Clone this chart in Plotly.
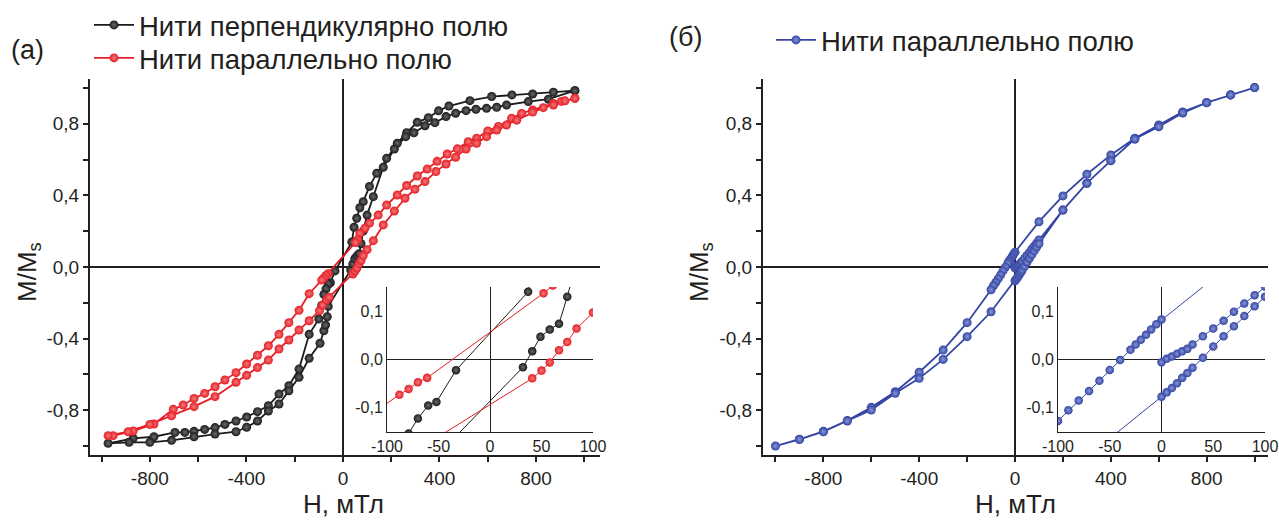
import plotly.graph_objects as go

# ---------------- data ----------------
# Panel (a): fibres perpendicular to field (black), full loop +Hmax -> -Hmax -> +Hmax
perp_H = [961, 872, 786, 700, 616, 526, 439, 396, 354, 308, 264, 225, 181, 140, 110, 84, 70, 57, 46, 37,
          -33, -52, -60, -70, -79, -88, -100, -140, -182, -224, -265, -309, -354, -399, -443, -489, -530,
          -573, -617, -655, -696, -783, -869, -973,
          -886, -800, -710, -617, -530, -443, -399, -354, -309, -265, -224, -182, -140, -95, -79, -72, -65, -61,
          32, 41, 49, 58, 67, 75, 84, 100, 126, 167, 213, 260, 294, 340, 381, 427, 467, 510, 551, 595, 637,
          678, 768, 851, 961]
perp_M = [0.985, 0.976, 0.966, 0.961, 0.952, 0.929, 0.899, 0.872, 0.834, 0.808, 0.750, 0.691, 0.607, 0.523,
          0.450, 0.365, 0.331, 0.272, 0.222, 0.140,
          -0.022, -0.088, -0.095, -0.122, -0.153, -0.215, -0.290, -0.376, -0.570, -0.663, -0.710, -0.775,
          -0.808, -0.838, -0.860, -0.879, -0.897, -0.907, -0.918, -0.924, -0.924, -0.948, -0.957, -0.985,
          -0.979, -0.979, -0.968, -0.948, -0.933, -0.920, -0.895, -0.860, -0.804, -0.765, -0.691, -0.616,
          -0.510, -0.426, -0.356, -0.324, -0.278, -0.220,
          -0.016, 0.017, 0.047, 0.062, 0.074, 0.130, 0.200, 0.290, 0.393, 0.557, 0.659, 0.728, 0.750, 0.789,
          0.806, 0.840, 0.859, 0.873, 0.881, 0.886, 0.892, 0.905, 0.924, 0.937, 0.985]

# Panel (a): fibres parallel to field (red)
par_H = [961, 905, 872, 786, 740, 699, 644, 600, 554, 519, 474, 432, 390, 349, 308, 264, 225, 181, 146, 110,
         91, 70, 61, 52,
         -61, -70, -79, -88, -140, -182, -224, -265, -309, -354, -399, -443, -489, -530, -573, -617, -662,
         -703, -783, -869, -952, -973,
         -890, -800, -710, -617, -530, -443, -399, -354, -309, -265, -224, -182, -140, -97, -84, -68, -57,
         41, 50, 58, 67, 75, 84, 100, 126, 167, 213, 257, 298, 340, 385, 427, 467, 510, 554, 595, 637, 678,
         720, 786, 830, 872, 920, 961]
par_M = [0.942, 0.925, 0.913, 0.877, 0.858, 0.831, 0.785, 0.760, 0.719, 0.700, 0.660, 0.631, 0.590, 0.547,
         0.508, 0.455, 0.402, 0.346, 0.290, 0.245, 0.216, 0.188, 0.153, 0.137,
         -0.038, -0.047, -0.061, -0.073, -0.149, -0.242, -0.311, -0.376, -0.440, -0.493, -0.542, -0.590,
         -0.631, -0.669, -0.706, -0.734, -0.771, -0.795, -0.877, -0.916, -0.942, -0.942,
         -0.920, -0.879, -0.831, -0.780, -0.724, -0.644, -0.605, -0.562, -0.520, -0.458, -0.408, -0.352,
         -0.300, -0.244, -0.212, -0.184, -0.169,
         -0.039, -0.023, -0.006, 0.019, 0.036, 0.064, 0.097, 0.147, 0.235, 0.313, 0.384, 0.434, 0.477, 0.533,
         0.575, 0.613, 0.659, 0.691, 0.728, 0.765, 0.793, 0.820, 0.865, 0.890, 0.905, 0.928, 0.942]

# Panel (b): fibres parallel to field (blue): initial curve, descending, ascending branch
blue_H = [0, 5, 10, 15, 20, 25, 30, 40, 50, 60, 70, 80, 90, 100, 200, 300, 400, 500, 600, 700, 800, 900, 1000,
          900, 800, 700, 600, 500, 400, 300, 200, 100, 0, -5, -10, -15, -20, -25, -30, -40, -50, -60, -70,
          -80, -90, -100, -200, -300, -400, -500, -600, -700, -800, -900, -1000,
          -900, -800, -700, -600, -500, -400, -300, -200, -100, 0, 5, 10, 15, 20, 25, 30, 40, 50, 60, 70, 80,
          90, 100, 200, 300, 400, 500, 600, 700, 800, 900, 1000]
blue_M = [-0.0055, 0.0014, 0.006, 0.012, 0.017, 0.022, 0.031, 0.048, 0.064, 0.080, 0.099, 0.116, 0.133,
          0.151, 0.318, 0.468, 0.594, 0.715, 0.784, 0.860, 0.918, 0.961, 1.002,
          0.961, 0.918, 0.866, 0.793, 0.719, 0.626, 0.518, 0.397, 0.253, 0.083, 0.073, 0.062, 0.051, 0.041,
          0.031, 0.020, -0.001, -0.0215, -0.044, -0.065, -0.085, -0.105, -0.127, -0.311, -0.464, -0.588,
          -0.697, -0.784, -0.858, -0.918, -0.962, -1.000,
          -0.963, -0.920, -0.860, -0.799, -0.705, -0.622, -0.516, -0.389, -0.250, -0.077, -0.068, -0.059,
          -0.049, -0.038, -0.028, -0.017, 0.0035, 0.027, 0.048, 0.069, 0.090, 0.110, 0.130, 0.318, 0.468,
          0.594, 0.715, 0.784, 0.862, 0.918, 0.961, 1.002]

name_perp = "Нити перпендикулярно полю"
name_par = "Нити параллельно полю"

x_ticks = [-800, -400, 0, 400, 800]
x_minor = [-1000, -600, -200, 200, 600, 1000]
y_ticks = [-0.8, -0.4, 0.0, 0.4, 0.8]
y_ticktext = ["-0,8", "-0,4", "0,0", "0,4", "0,8"]
y_minor = [-1.0, -0.6, -0.2, 0.2, 0.6, 1.0]
ix_ticks = [-100, -50, 0, 50, 100]
iy_ticks = [-0.1, 0.0, 0.1]
iy_ticktext = ["-0,1", "0,0", "0,1"]

# ---------------- style ----------------
INK = "#231f20"
BLACK, BLACK_HI = "#1b1b1b", "#6a6a6a"
RED, RED_HI = "#e61e26", "#f27a7a"
BLUE, BLUE_HI = "#3445a3", "#8796d8"
FONT = "Liberation Sans, Arial, Helvetica, sans-serif"
W, H = 1279, 521


def px(x):
    return x / W


def py(y):
    return 1 - y / H


def mk(color, hi, size):
    return dict(color=color, size=size, gradient=dict(type="radial", color=hi), line=dict(width=0))


fig = go.Figure()
fig.add_trace(go.Scatter(x=perp_H, y=perp_M, mode="lines+markers", name=name_perp,
                         line=dict(color=BLACK, width=1.8), marker=mk(BLACK, BLACK_HI, 9),
                         xaxis="x", yaxis="y", legend="legend"))
fig.add_trace(go.Scatter(x=par_H, y=par_M, mode="lines+markers", name=name_par,
                         line=dict(color=RED, width=1.8), marker=mk(RED, RED_HI, 9),
                         xaxis="x", yaxis="y", legend="legend3"))
fig.add_trace(go.Scatter(x=perp_H, y=perp_M, mode="lines+markers", showlegend=False,
                         line=dict(color=BLACK, width=1), marker=mk(BLACK, BLACK_HI, 8.5),
                         xaxis="x3", yaxis="y3"))
fig.add_trace(go.Scatter(x=par_H, y=par_M, mode="lines+markers", showlegend=False,
                         line=dict(color=RED, width=1), marker=mk(RED, RED_HI, 8.5),
                         xaxis="x3", yaxis="y3"))
fig.add_trace(go.Scatter(x=blue_H, y=blue_M, mode="lines+markers", name=name_par,
                         line=dict(color=BLUE, width=1.8), marker=mk(BLUE, BLUE_HI, 9),
                         xaxis="x2", yaxis="y2", legend="legend2"))
fig.add_trace(go.Scatter(x=blue_H, y=blue_M, mode="lines+markers", showlegend=False,
                         line=dict(color=BLUE, width=1), marker=mk(BLUE, BLUE_HI, 8.5),
                         xaxis="x4", yaxis="y4"))

ydom = [py(455), py(79)]


def main_x(dom, rng, anchor):
    return dict(domain=dom, range=rng, anchor=anchor, showline=True, linecolor=INK, linewidth=2,
                ticks="outside", ticklen=5, tickwidth=1.5, tickcolor=INK,
                tickmode="array", tickvals=x_ticks, ticktext=[str(v) for v in x_ticks],
                tickfont=dict(size=19, color=INK, family=FONT),
                zeroline=True, zerolinecolor=INK, zerolinewidth=2, showgrid=False,
                minor=dict(tickmode="array", tickvals=x_minor, ticks="outside", ticklen=5, tickwidth=1.5,
                           tickcolor=INK, showgrid=False),
                automargin=False)


def main_y(anchor):
    return dict(domain=ydom, range=[-1.05, 1.05], anchor=anchor, showline=True, linecolor=INK, linewidth=2,
                ticks="outside", ticklen=5, tickwidth=1.5, tickcolor=INK,
                tickmode="array", tickvals=y_ticks, ticktext=y_ticktext,
                tickfont=dict(size=19, color=INK, family=FONT),
                zeroline=True, zerolinecolor=INK, zerolinewidth=2, showgrid=False,
                minor=dict(tickmode="array", tickvals=y_minor, ticks="outside", ticklen=5, tickwidth=1.5,
                           tickcolor=INK, showgrid=False),
                automargin=False)


def inset_x(dom, anchor):
    return dict(domain=dom, range=[-100, 100], anchor=anchor, showline=True, linecolor=INK, linewidth=1,
                ticks="", tickmode="array", tickvals=ix_ticks, ticktext=[str(v) for v in ix_ticks],
                tickfont=dict(size=16, color=INK, family=FONT),
                zeroline=True, zerolinecolor=INK, zerolinewidth=1, showgrid=False, automargin=False)


def inset_y(dom, anchor):
    return dict(domain=dom, range=[-0.15, 0.15], anchor=anchor, showline=True, linecolor=INK, linewidth=1,
                ticks="", tickmode="array", tickvals=iy_ticks, ticktext=iy_ticktext,
                tickfont=dict(size=16, color=INK, family=FONT),
                zeroline=True, zerolinecolor=INK, zerolinewidth=1, showgrid=False, automargin=False)


iydom = [py(432), py(287)]


def leg(x, y):
    return dict(x=px(x), y=py(y), xanchor="left", yanchor="middle", bgcolor="rgba(0,0,0,0)",
                font=dict(size=27.5, color=INK, family=FONT), itemwidth=40)


fig.update_layout(
    width=W, height=H,
    margin=dict(l=0, r=0, t=0, b=0),
    paper_bgcolor="white", plot_bgcolor="rgba(0,0,0,0)",
    font=dict(family=FONT, color=INK),
    xaxis=main_x([px(90), px(600)], [-1048, 1065], "y"),
    yaxis=main_y("x"),
    xaxis2=main_x([px(763), px(1268)], [-1052, 1056], "y2"),
    yaxis2=main_y("x2"),
    xaxis3=inset_x([px(387), px(593)], "y3"),
    yaxis3=inset_y(iydom, "x3"),
    xaxis4=inset_x([px(1058), px(1265)], "y4"),
    yaxis4=inset_y(iydom, "x4"),
    legend=leg(89, 25),
    legend3=leg(89, 58),
    legend2=leg(771, 40),
    showlegend=True,
)

ann = [
    dict(text="(а)", x=px(27), y=py(50), size=27),
    dict(text="(б)", x=px(685), y=py(37), size=27),
    dict(text="H, мТл", x=px(343), y=py(504), size=26),
    dict(text="H, мТл", x=px(1015), y=py(504), size=26),
    dict(text="M/M<sub>s</sub>", x=px(28), y=py(272), size=26, angle=-90),
    dict(text="M/M<sub>s</sub>", x=px(700), y=py(272), size=26, angle=-90),
]
for a in ann:
    fig.add_annotation(text=a["text"], x=a["x"], y=a["y"], xref="paper", yref="paper",
                       xanchor="center", yanchor="middle", showarrow=False,
                       textangle=a.get("angle", 0),
                       font=dict(size=a.get("size", 24), color=INK, family=FONT))

fig.write_html("out.html", config={"displayModeBar": False},
               post_script="document.body.style.margin='0';")
